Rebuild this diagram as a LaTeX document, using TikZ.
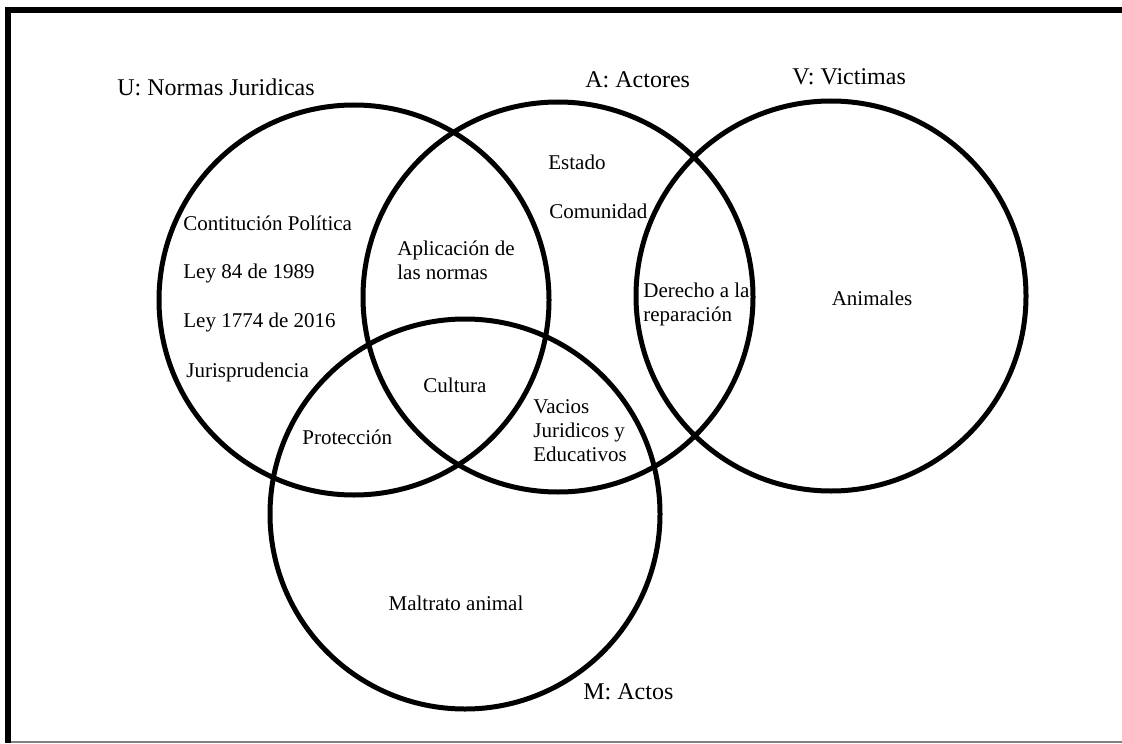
\documentclass[tikz,border=0pt]{standalone}
\usepackage{fontspec}
\setmainfont{Liberation Serif}

\begin{document}
\begin{tikzpicture}[x=0.5pt, y=-0.5pt,
        conjunto/.style={draw, circle, line width=2.5pt, minimum size=195pt, inner sep=0pt},
        etiqueta/.style={inner sep=0pt, anchor=west, align=left, font=\fontsize{10.5}{12}\selectfont},
        nombre/.style={inner sep=0pt, anchor=west, font=\fontsize{12}{14}\selectfont}]

        \useasboundingbox (0,0) rectangle (1122,743);

        % marco
        \draw[line width=3pt] (8,743) -- (8,10) -- (1122,10);
        \draw[gray, line width=1pt] (11,742) -- (1122,742);

        % conjuntos
        \node[conjunto] (U) at (354,300) {};
        \node[conjunto] (A) at (558,297) {};
        \node[conjunto] (V) at (831,296) {};
        \node[conjunto] (M) at (465,514) {};

        \node[nombre] (nU) at (117,87) {U: Normas Juridicas};
        \node[nombre] (nA) at (585,80) {A: Actores};
        \node[nombre] (nV) at (792,77) {V: Victimas};
        \node[nombre] (nM) at (583,692) {M: Actos};

        % elementos
        \node[etiqueta] (constitucion) at (183,223) {Contitución Política};
        \node[etiqueta] (ley84) at (183,273) {Ley 84 de 1989};
        \node[etiqueta] (ley1774) at (183,322) {Ley 1774 de 2016};
        \node[etiqueta] (juris) at (186,372) {Jurisprudencia};
        \node[etiqueta] (aplicacion) at (397,260) {Aplicación de\\las normas};
        \node[etiqueta] (cultura) at (423,385) {Cultura};
        \node[etiqueta] (proteccion) at (302,437) {Protección};
        \node[etiqueta] (estado) at (548,162) {Estado};
        \node[etiqueta] (comunidad) at (549,211) {Comunidad};
        \node[etiqueta] (derecho) at (643,304) {Derecho a la\\reparación};
        \node[etiqueta] (vacios) at (533,431) {Vacios\\Juridicos y\\Educativos};
        \node[etiqueta, anchor=center] (animales) at (872,298) {Animales};
        \node[etiqueta, anchor=center] (maltrato) at (456,603) {Maltrato animal};

    \end{tikzpicture}
\end{document}
